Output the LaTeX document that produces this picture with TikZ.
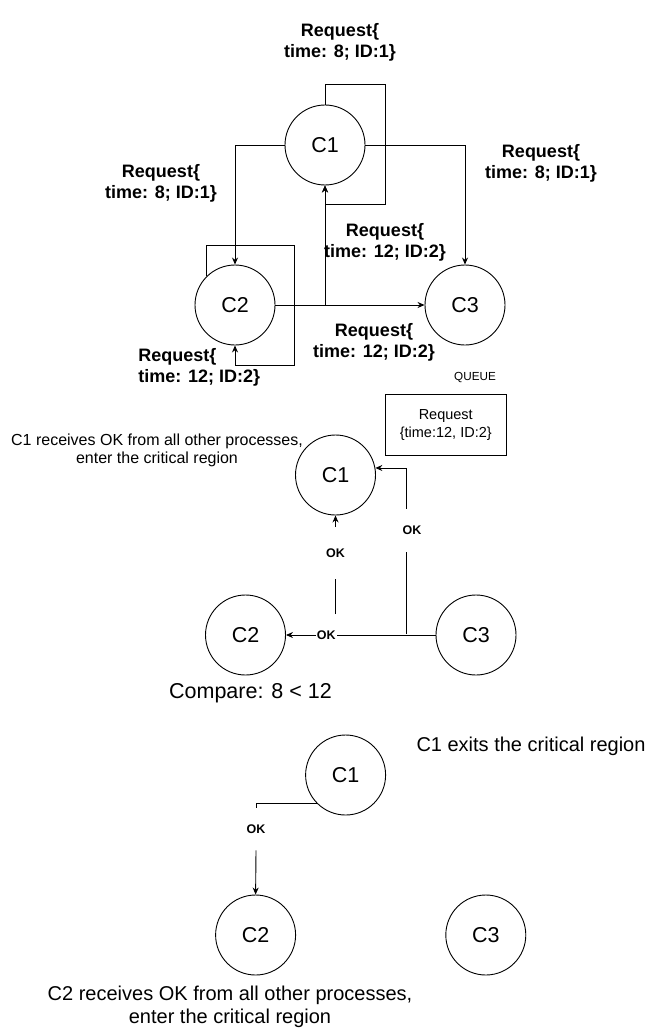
\documentclass[tikz,border=0pt]{standalone}
\usepackage{fontspec}
\setmainfont{Liberation Sans}
\usetikzlibrary{arrows.meta}

\begin{document}
\begin{tikzpicture}[x=1pt, y=-1pt, line width=0.9pt, >={Stealth[length=7pt,width=6pt]},
    proc/.style={circle, draw, minimum size=80pt, inner sep=0pt, font=\fontsize{21.5}{25}\selectfont},
    reqlbl/.style={align=center, inner sep=1pt, font=\bfseries\fontsize{18}{21}\selectfont},
    oklbl/.style={fill=white, inner sep=1pt, font=\bfseries\fontsize{12.5}{15}\selectfont},
    note/.style={align=center, inner sep=0pt}]
    \useasboundingbox[fill=white] (0,0) rectangle (655,1035);

    % Draw the processes (requests)
    \node[proc] (c1a) at (325,145) {C1};
    \node[proc] (c2a) at (235,305) {C2};
    \node[proc] (c3a) at (465,305) {C3};

    % Draw the requests
    \draw[->] (c1a.north) -- ++(0,-20) -| ++(60,120) -| (c1a.south);
    \draw[->] (c1a.west) -| (c2a.north);
    \draw[->] (c1a.east) -| (c3a.north);
    \draw[->] (c2a.east) -- (c3a.west);
    \draw[->] (c2a.east) -| (c1a.south);
    \draw[->] (c2a.135) -- ++(0,-31) -| ++(88,120) -| (c2a.south);

    % Request labels
    \node[reqlbl] (r1) at (340,42.5) {Request\{\\time: 8; ID:1\}};
    \node[reqlbl] (r2) at (161,183) {Request\{\\time: 8; ID:1\}};
    \node[reqlbl] (r3) at (541,163) {Request\{\\time: 8; ID:1\}};
    \node[reqlbl] (r4) at (385,242) {Request\{\\time: 12; ID:2\}};
    \node[reqlbl] (r5) at (374,342) {Request\{\\time: 12; ID:2\}};
    \node[reqlbl, align=left, anchor=west] (r6) at (137,367.5) {Request\{\\time: 12; ID:2\}};

    % Queue
    \node[font=\fontsize{11.7}{14}\selectfont] (qlbl) at (475,378) {QUEUE};
    \node[draw, minimum width=121pt, minimum height=61pt, align=center,
        font=\fontsize{14.5}{18.3}\selectfont] (qbox) at (445.75,425.3) {Request\\\{time:12, ID:2\}};

    % Draw the processes (replies)
    \node[proc] (c1b) at (335.5,475) {C1};
    \node[proc] (c2b) at (245.5,635) {C2};
    \node[proc] (c3b) at (476,635) {C3};
    \node[note, font=\fontsize{16}{18}\selectfont] (n1) at (157,450) {C1 receives OK from all other processes,\\enter the critical region};
    \node[note, font=\fontsize{21.5}{25}\selectfont] (n2) at (250.5,693) {Compare: 8 < 12};

    % Draw the replies
    \coordinate (j3) at (406,634);
    \coordinate (s2) at (335.5,614);
    \node[oklbl, minimum height=51pt] (ok2) at (335.5,553) {OK};
    \node[oklbl, minimum height=43pt] (ok3) at (412,530.5) {OK};
    \draw[->] (c3b.west) -- node[oklbl, pos=0.73] (ok1) {OK} (c2b.east);
    \draw (j3) -- (j3 |- ok3.south);
    \draw[->] (j3 |- ok3.north) |- (c1b.10);
    \draw (s2) -- (ok2.south);
    \draw[->] (ok2.north) -- (c1b.south);

    % Draw the processes (exit)
    \node[proc] (c1c) at (345.6,775) {C1};
    \node[proc] (c2c) at (255.6,935) {C2};
    \node[proc] (c3c) at (485.8,935) {C3};
    \node[note, font=\fontsize{20}{23}\selectfont] (n3) at (531,746.5) {C1 exits the critical region};
    \node[note, font=\fontsize{20}{23.3}\selectfont] (n4) at (230,1006.7) {C2 receives OK from all other processes,\\enter the critical region};

    % Draw the last reply
    \node[oklbl, minimum height=42pt] (ok4) at (256,829) {OK};
    \draw (c1c.-135) -| (ok4.north);
    \draw[->] (ok4.south) -- (c2c.north);

\end{tikzpicture}
\end{document}
